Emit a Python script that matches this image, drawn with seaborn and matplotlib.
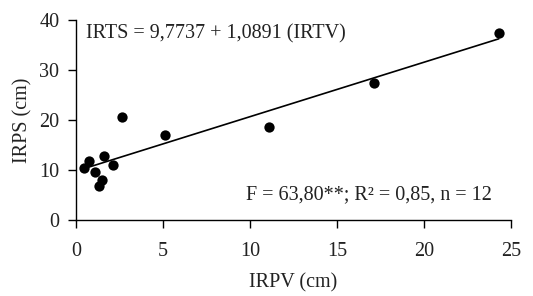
import matplotlib
matplotlib.use("Agg")
import matplotlib.pyplot as plt
import seaborn as sns
import numpy as np
import pandas as pd

irpv = [0.45, 0.75, 1.1, 1.3, 1.5, 1.6, 2.1, 2.65, 5.1, 11.1, 17.15, 24.3]
irps = [10.5, 11.9, 9.6, 6.9, 8.1, 12.8, 11.1, 20.7, 17.1, 18.6, 27.5, 37.4]
intercept = 9.7737
slope = 1.0891
xticks = [0, 5, 10, 15, 20, 25]
yticks = [0, 10, 20, 30, 40]

sns.set_style("ticks")
plt.rcParams['font.family'] = ['Liberation Serif', 'DejaVu Serif']

df = pd.DataFrame({"IRPV": irpv, "IRPS": irps})
xl = np.array([0.5, max(irpv)])
line_df = pd.DataFrame({"x": xl, "y": intercept + slope * xl})

fig = plt.figure(figsize=(5.33, 2.96), dpi=100)
ax = fig.add_axes([76/533, 1-220/296, (511-76)/533, 200/296])
sns.lineplot(data=line_df, x="x", y="y", ax=ax, color="black", lw=1.2)
sns.scatterplot(data=df, x="IRPV", y="IRPS", ax=ax, color="black", s=55,
                edgecolor="black", linewidth=0, zorder=3)
ax.set_xlim(0, 25)
ax.set_ylim(0, 40)
ax.set_xticks(xticks)
ax.set_yticks(yticks)
ax.tick_params(labelsize=14.5, length=6, width=1, color="black", labelcolor="#222222")
ax.tick_params(axis="x", pad=10)
ax.tick_params(axis="y", pad=6)
for s in ["top", "right"]:
    ax.spines[s].set_visible(False)
for s in ["left", "bottom"]:
    ax.spines[s].set_linewidth(1)
    ax.spines[s].set_color("black")
ax.set_xlabel("IRPV (cm)", fontsize=14.5, labelpad=9, color="#222222")
ax.set_ylabel("IRPS (cm)", fontsize=14.5, labelpad=5, color="#222222")
ax.text(0.58, 37.2, "IRTS = 9,7737 + 1,0891 (IRTV)", fontsize=14.5, va="center", ha="left", color="#222222")
ax.text(23.9, 5.0, "F = 63,80**; R² = 0,85, n = 12", fontsize=14.5, va="center", ha="right", color="#222222")
fig.savefig("out.png", dpi=100)
